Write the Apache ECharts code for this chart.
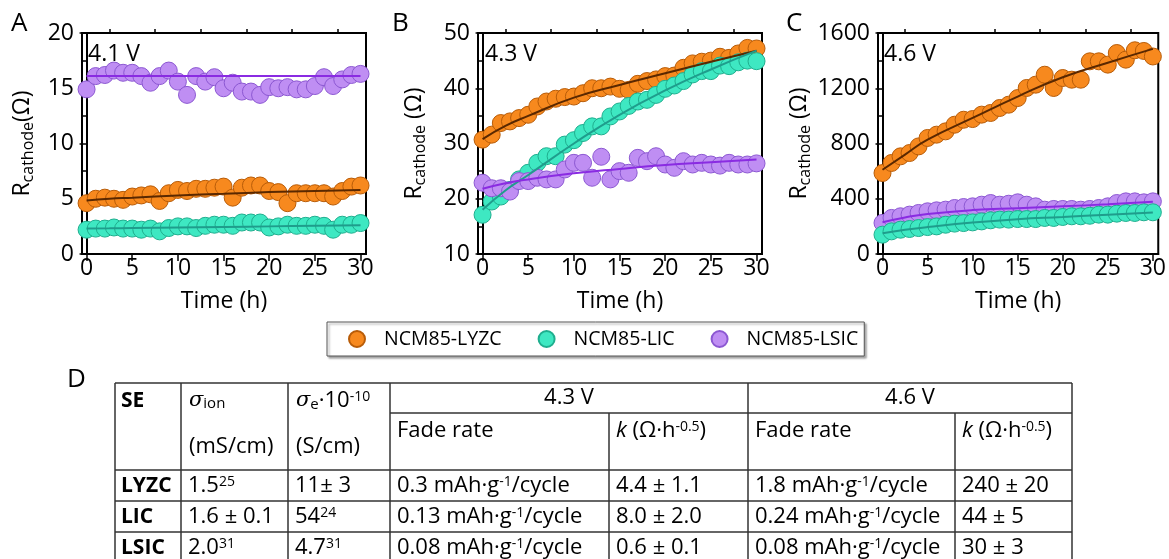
<!DOCTYPE html>
<html>
<head>
<meta charset="utf-8">
<script src="https://cdn.jsdelivr.net/npm/echarts@6/dist/echarts.min.js"></script>
<style>
html, body { margin: 0; padding: 0; background: #fff; }
#main { width: 1169px; height: 559px; }
</style>
</head>
<body>
<div id="main"></div>
<script>
// time axis (h)
var hours = [0,1,2,3,4,5,6,7,8,9,10,11,12,13,14,15,16,17,18,19,20,21,22,23,24,25,26,27,28,29,30];
var fitHours = [0,2.5,5,10,15,20,25,30];

// panel A, 4.1 V
var aLYZC = [4.6,5.0,5.1,5.0,4.9,5.2,5.3,5.4,4.8,5.5,5.8,5.7,5.9,5.9,6.0,6.1,5.1,6.0,6.2,6.2,5.7,5.6,4.6,5.5,5.5,5.5,5.5,5.2,5.7,6.1,6.2];
var aLIC = [2.2,2.3,2.3,2.4,2.3,2.3,2.2,2.3,2.05,2.35,2.5,2.5,2.35,2.55,2.65,2.65,2.55,2.85,2.85,2.85,2.4,2.5,2.65,2.55,2.55,2.65,2.55,2.2,2.65,2.65,2.8];
var aLSIC = [14.9,16.1,16.2,16.6,16.4,16.4,16.1,15.5,16.1,16.6,15.6,14.4,16.1,15.6,16.0,15.0,15.5,14.7,14.7,14.4,15.1,15.0,15.1,14.9,14.9,15.2,16.0,15.2,15.8,16.2,16.3];
var aLYZCfit = [4.85,5.0,5.1,5.3,5.45,5.6,5.7,5.8];
var aLICfit = [2.3,2.32,2.35,2.4,2.45,2.5,2.55,2.6];
var aLSICfit = [16.1,16.1,16.1,16.1,16.1,16.1,16.1,16.1];

// panel B, 4.3 V
var bLYZC = [30.7,31.6,33.7,34.0,34.6,35.2,36.7,37.6,38.1,38.4,38.5,39.1,40.0,40.0,40.3,39.9,39.7,40.8,41.3,41.6,42.2,42.3,43.7,44.5,44.8,45.0,45.7,45.5,46.3,47.3,47.2];
var bLIC = [17.1,19.5,20.4,21.6,23.5,24.7,26.5,27.7,27.7,29.8,30.6,31.9,33.1,33.1,34.9,35.8,36.8,37.6,37.9,38.8,39.9,40.5,41.3,42.5,43.1,43.1,44.1,44.0,44.7,45.0,44.9];
var bLSIC = [22.9,21.9,21.9,21.3,23.2,23.2,23.8,23.5,23.5,25.3,26.5,26.5,23.8,27.6,23.5,25.0,24.7,27.4,26.8,27.7,26.2,25.6,26.8,26.2,26.5,26.2,26.0,26.5,26.2,26.2,26.4];
var bLYZCfit = [30.8,33.2,35.0,38.3,40.6,42.7,44.8,46.8];
var bLICfit = [18.0,21.5,24.3,30.0,35.2,39.6,43.4,46.8];
var bLSICfit = [21.8,22.8,23.5,24.6,25.4,26.1,26.6,27.1];

// panel C, 4.6 V
var cLYZC = [586,659,707,731,779,840,864,888,936,972,977,1009,1021,1057,1081,1129,1202,1226,1298,1202,1274,1262,1262,1395,1395,1371,1455,1407,1475,1470,1430];
var cLIC = [140,164,176,181,188,195,200,212,220,224,229,236,244,249,249,253,253,253,261,261,268,273,273,277,285,285,292,297,297,302,302];
var cLSIC = [225,261,273,285,297,309,316,321,333,340,345,357,369,357,364,374,357,345,321,326,326,326,321,326,333,345,369,381,381,374,381];
var cLYZCfit = [610,720,828,985,1140,1280,1385,1485];
var cLICfit = [150,175,195,228,252,268,285,300];
var cLSICfit = [230,265,290,318,332,345,360,378];

// axis ticks
var xMajor = [0,5,10,15,20,25,30];
var xMinor = [2.5,7.5,12.5,17.5,22.5,27.5];

// table D
var tableSE = ['LYZC','LIC','LSIC'];
var tableIon = ['1.5{sup|25}','1.6 ± 0.1','2.0{sup|31}'];
var tableElec = ['11± 3','54{sup|24}','4.7{sup|31}'];
var tableFade43 = ['0.3 mAh·g{sup|-1}/cycle','0.13 mAh·g{sup|-1}/cycle','0.08 mAh·g{sup|-1}/cycle'];
var tableK43 = ['4.4 ± 1.1','8.0 ± 2.0','0.6 ± 0.1'];
var tableFade46 = ['1.8 mAh·g{sup|-1}/cycle','0.24 mAh·g{sup|-1}/cycle','0.08 mAh·g{sup|-1}/cycle'];
var tableK46 = ['240 ± 20','44 ± 5','30 ± 3'];

var FONT = 'Open Sans';
var names = ['NCM85-LYZC','NCM85-LIC','NCM85-LSIC'];
var fills = ['#f7891e','#3ee8c2','#bf8ef3'];
var edges = ['#b85c08','#1fae8e','#8c58d2'];
var fitColors = ['#5a2800','#1f9d8c','#8a2be2'];

function pairs(xs, ys){
	var out = [];
	for (var i = 0; i < xs.length; i++) out.push([xs[i], ys[i]]);
	return out;
}

function axisX(gi, minor){
	return {
		type: 'value', gridIndex: gi, min: -0.5, max: 30.6,
		axisLine: {show: !minor, lineStyle: {color: '#000', width: 2}},
		axisTick: {show: true, inside: false, length: minor ? 4 : 7, lineStyle: {color: '#000', width: 1.5},
			customValues: minor ? xMinor : xMajor},
		axisLabel: {show: !minor, customValues: xMajor, color: '#000', fontFamily: FONT, fontSize: 23, margin: 3},
		splitLine: {show: false},
		name: minor ? '' : 'Time (h)', nameLocation: 'middle', nameGap: 36,
		nameTextStyle: {color: '#000', fontFamily: FONT, fontSize: 23}
	};
}

function axisY(gi, min, max, step, nameText, gap){
	return {
		type: 'value', gridIndex: gi, min: min, max: max, interval: step,
		axisLine: {show: true, lineStyle: {color: '#000', width: 2}},
		axisTick: {show: true, inside: false, length: 7, lineStyle: {color: '#000', width: 1.5}},
		minorTick: {show: true, splitNumber: 2, length: 4, lineStyle: {color: '#000', width: 1.5}},
		axisLabel: {color: '#000', fontFamily: FONT, fontSize: 23, margin: 8,
			formatter: function(v){ return String(v); }},
		splitLine: {show: false},
		name: nameText, nameLocation: 'middle', nameGap: gap,
		nameTextStyle: {color: '#000', fontFamily: FONT, fontSize: 23, lineHeight: 28,
			rich: {sub: {fontFamily: FONT, fontSize: 16, color: '#000', verticalAlign: 'bottom', lineHeight: 14}}}
	};
}

function scatter(k, xi, vals){
	return {
		name: names[k], type: 'scatter', xAxisIndex: xi, yAxisIndex: xi / 2,
		symbol: 'circle', symbolSize: 17, z: 2,
		itemStyle: {color: fills[k], borderColor: edges[k], borderWidth: 1, opacity: 1},
		data: pairs(hours, vals)
	};
}

function fitLine(k, xi, vals){
	return {
		name: names[k] + ' fit', type: 'line', xAxisIndex: xi, yAxisIndex: xi / 2,
		smooth: true, showSymbol: false, symbol: 'none', z: 4, silent: true,
		lineStyle: {color: fitColors[k], width: 2},
		data: pairs(fitHours, vals)
	};
}

function text(x, y, str, font){
	var st = {text: str, x: x, y: y, fill: '#000', font: font || ('22px "' + FONT + '"'),
		verticalAlign: 'middle', align: 'left',
		rich: {
			sup: {fontFamily: FONT, fontSize: 14, verticalAlign: 'top', lineHeight: 12, fill: '#000'},
			sub: {fontFamily: FONT, fontSize: 15, verticalAlign: 'bottom', lineHeight: 12, fill: '#000'},
			sig: {fontFamily: 'DejaVu Serif', fontStyle: 'italic', fontSize: 21, fill: '#000'},
			it: {fontFamily: FONT, fontStyle: 'italic', fontSize: 22, fill: '#000'}
		}};
	return {type: 'text', z: 10, style: st};
}

function centered(x, y, str){
	var t = text(x, y, str);
	t.style.align = 'center';
	return t;
}

function line(x1, y1, x2, y2){
	return {type: 'line', z: 9, shape: {x1: x1, y1: y1, x2: x2, y2: y2}, style: {stroke: '#333', lineWidth: 1.5}};
}

function buildTable(){
	var g = [];
	var bottom = 562;
	var bold = 'bold 21px "' + FONT + '"';
	// horizontal rules
	g.push(line(115, 383, 1072, 383));
	g.push(line(390, 413, 1072, 413));
	g.push(line(115, 470, 1072, 470));
	g.push(line(115, 501, 1072, 501));
	g.push(line(115, 532, 1072, 532));
	// vertical rules
	g.push(line(115, 383, 115, bottom));
	g.push(line(181, 383, 181, bottom));
	g.push(line(288, 383, 288, bottom));
	g.push(line(390, 383, 390, bottom));
	g.push(line(609, 413, 609, bottom));
	g.push(line(748, 383, 748, bottom));
	g.push(line(955, 413, 955, bottom));
	g.push(line(1072, 383, 1072, bottom));
	// header
	g.push(text(121, 401, 'SE', bold));
	g.push(text(189, 401, '{sig|σ}{sub|ion}'));
	g.push(text(189, 447, '(mS/cm)'));
	g.push(text(296, 401, '{sig|σ}{sub|e}·10{sup|-10}'));
	g.push(text(296, 447, '(S/cm)'));
	g.push(centered(569, 398, '4.3 V'));
	g.push(centered(910, 398, '4.6 V'));
	g.push(text(397, 431, 'Fade rate'));
	g.push(text(616, 431, '{it|k} (Ω·h{sup|-0.5})'));
	g.push(text(755, 431, 'Fade rate'));
	g.push(text(962, 431, '{it|k} (Ω·h{sup|-0.5})'));
	// body
	var rowY = [486, 517, 548];
	for (var i = 0; i < 3; i++){
		g.push(text(121, rowY[i], tableSE[i], bold));
		g.push(text(188, rowY[i], tableIon[i]));
		g.push(text(295, rowY[i], tableElec[i]));
		g.push(text(397, rowY[i], tableFade43[i]));
		g.push(text(616, rowY[i], tableK43[i]));
		g.push(text(755, rowY[i], tableFade46[i]));
		g.push(text(962, rowY[i], tableK46[i]));
	}
	return g;
}

var dom = document.getElementById('main');
var myChart = echarts.init(dom, null, {renderer: 'canvas'});

var big = '26px "' + FONT + '"';
var label = '23px "' + FONT + '"';
var graphics = [
	text(11, 24, 'A', big),
	text(392, 24, 'B', big),
	text(786, 24, 'C', big),
	text(67, 380, 'D', big),
	text(88, 54, '4.1 V', label),
	text(485, 54, '4.3 V', label),
	text(884, 54, '4.6 V', label)
].concat(buildTable());

var option = {
	backgroundColor: '#fff',
	animation: false,
	grid: [
		{left: 82, top: 33, width: 284, height: 221, show: true, borderColor: '#000', borderWidth: 2, backgroundColor: 'transparent'},
		{left: 478, top: 33, width: 284, height: 221, show: true, borderColor: '#000', borderWidth: 2, backgroundColor: 'transparent'},
		{left: 878, top: 33, width: 282, height: 221, show: true, borderColor: '#000', borderWidth: 2, backgroundColor: 'transparent'}
	],
	xAxis: [axisX(0,false), axisX(0,true), axisX(1,false), axisX(1,true), axisX(2,false), axisX(2,true)],
	yAxis: [
		axisY(0, 0, 20, 5, 'R{sub|cathode}(Ω)', 46),
		axisY(1, 10, 50, 10, 'R{sub|cathode} (Ω)', 50),
		axisY(2, 0, 1600, 400, 'R{sub|cathode} (Ω)', 62)
	],
	legend: {
		data: names, left: 327, top: 322, orient: 'horizontal',
		icon: 'circle', itemWidth: 16, itemHeight: 16, itemGap: 36,
		padding: [7, 6, 7, 21],
		borderColor: '#555', borderWidth: 1,
		shadowColor: 'rgba(0,0,0,0.35)', shadowBlur: 2, shadowOffsetX: 2, shadowOffsetY: 2,
		backgroundColor: '#fff',
		textStyle: {color: '#000', fontFamily: FONT, fontSize: 19.5, padding: [0, 0, 0, 14]}
	},
	series: [
		scatter(2, 0, aLSIC), scatter(0, 0, aLYZC), scatter(1, 0, aLIC),
		fitLine(2, 0, aLSICfit), fitLine(0, 0, aLYZCfit), fitLine(1, 0, aLICfit),
		scatter(0, 2, bLYZC), scatter(1, 2, bLIC), scatter(2, 2, bLSIC),
		fitLine(0, 2, bLYZCfit), fitLine(1, 2, bLICfit), fitLine(2, 2, bLSICfit),
		scatter(0, 4, cLYZC), scatter(2, 4, cLSIC), scatter(1, 4, cLIC),
		fitLine(0, 4, cLYZCfit), fitLine(2, 4, cLSICfit), fitLine(1, 4, cLICfit)
	],
	graphic: graphics
};
myChart.setOption(option, true);
</script>
</body>
</html>
